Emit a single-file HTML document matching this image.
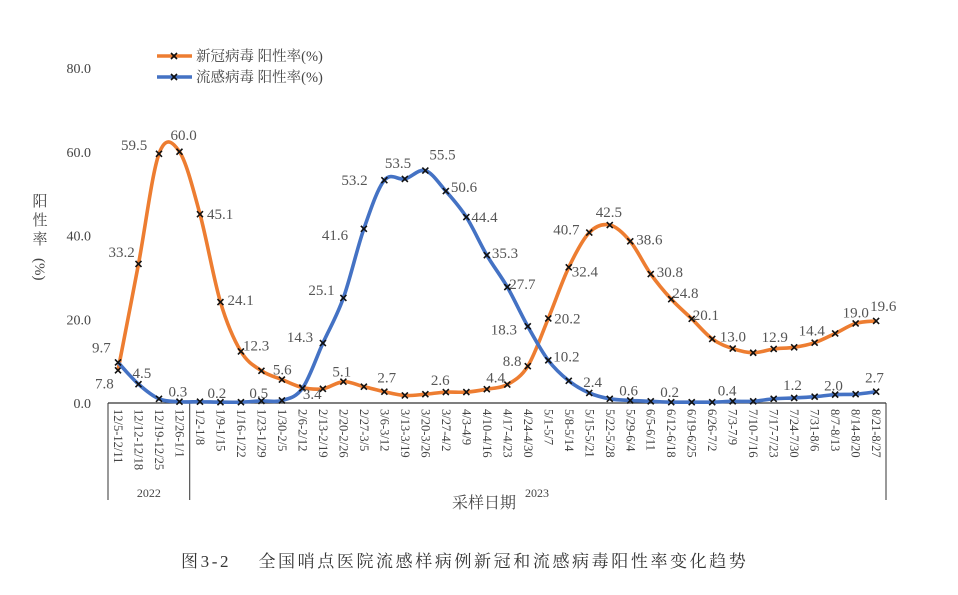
<!DOCTYPE html>
<html><head><meta charset="utf-8">
<style>
body{margin:0;background:#fff;}
svg text{font-family:"Liberation Serif","Noto Serif CJK SC",serif;}
</style></head>
<body>
<svg id="chart" width="958" height="590" viewBox="0 0 958 590" xmlns="http://www.w3.org/2000/svg">
<g id="axes"></g>
<g id="series"></g>
<g id="labels"></g>
</svg>
<script>
const categories=["12/5-12/11","12/12-12/18","12/19-12/25","12/26-1/1","1/2-1/8","1/9-1/15","1/16-1/22","1/23-1/29","1/30-2/5","2/6-2/12","2/13-2/19","2/20-2/26","2/27-3/5","3/6-3/12","3/13-3/19","3/20-3/26","3/27-4/2","4/3-4/9","4/10-4/16","4/17-4/23","4/24-4/30","5/1-5/7","5/8-5/14","5/15-5/21","5/22-5/28","5/29-6/4","6/5-6/11","6/12-6/18","6/19-6/25","6/26-7/2","7/3-7/9","7/10-7/16","7/17-7/23","7/24-7/30","7/31-8/6","8/7-8/13","8/14-8/20","8/21-8/27"];
const covidValues=[7.8,33.2,59.5,60.0,45.1,24.1,12.3,7.7,5.6,3.7,3.4,5.1,3.9,2.7,1.8,2.1,2.6,2.6,3.3,4.4,8.8,20.2,32.4,40.7,42.5,38.6,30.8,24.8,20.1,15.3,13.0,12.0,12.9,13.3,14.4,16.6,19.0,19.6];
const fluValues=[9.7,4.5,1.0,0.3,0.3,0.2,0.2,0.5,0.6,3.5,14.3,25.1,41.6,53.2,53.5,55.5,50.6,44.4,35.3,27.7,18.3,10.2,5.3,2.4,1.0,0.6,0.4,0.2,0.2,0.2,0.4,0.4,1.0,1.2,1.5,2.0,2.1,2.7];
const yTicks=[0,20,40,60,80];
const years=["2022","2023"];

// label layout (index -> text offset from point), not data
const covidLabelLayout={0:[-23,18],1:[-30,-7],2:[-38,-4],3:[-9,-12],4:[7,5],5:[7,3],6:[2,-1],8:[-9,-5],10:[-20,10],11:[-11,-5],13:[-7,-9],16:[-15,-7],19:[-21,-2],20:[-25,0],21:[6,5],22:[3,9],23:[-36,2],24:[-14,-8],25:[6,3],26:[6,3],27:[1,-1],28:[1,1],30:[-13,-7],32:[-12,-7],34:[-16,-7],36:[-13,-6],37:[-6,-10]};
const fluLabelLayout={0:[-26,-10],1:[-6,-6],3:[-11,-5],5:[-13,-4],7:[-12,-3],10:[-36,-1],11:[-35,-3],12:[-42,11],13:[-43,5],14:[-20,-11],15:[4,-11],16:[5,1],17:[5,5],18:[5,3],19:[2,2],20:[-37,8],21:[5,1],23:[-6,-6],25:[-11,-5],27:[-11,-5],30:[-15,-6],33:[-11,-8],35:[-11,-4],37:[-11,-9]};

const NS="http://www.w3.org/2000/svg";
const X0=118,DX=20.49,Y0=403,YS=335/80;
const xPos=i=>X0+i*DX;
const yPos=v=>Y0-v*YS;
function mk(tag,attrs,parent,txt){const e=document.createElementNS(NS,tag);for(const k in attrs)e.setAttribute(k,attrs[k]);if(txt!==undefined)e.textContent=txt;parent.appendChild(e);return e;}
const axes=document.getElementById('axes'),series=document.getElementById('series'),labels=document.getElementById('labels');

let bl=mk('line',{x1:108,y1:Y0,x2:886,y2:Y0,stroke:'#333','stroke-width':1.2},axes);


const gx=[108,X0+3.5*DX,886];
gx.forEach(x=>{const l=mk('line',{x1:x,y1:Y0,x2:x,y2:500,stroke:'#333','stroke-width':1},axes);

});
yTicks.forEach(v=>{const t=mk('text',{x:91,y:yPos(v)+5,'text-anchor':'end','font-size':14,fill:'#444'},axes,v.toFixed(1));

});
categories.forEach((c,i)=>{const x=xPos(i);const t=mk('text',{x:0,y:0,transform:`translate(${x-4},409) rotate(90)`,'font-size':12.5,fill:'#444'},axes,c);

});
let y1=mk('text',{x:(gx[0]+gx[1])/2,y:497,'text-anchor':'middle','font-size':12,fill:'#444'},axes,years[0]);


let y2=mk('text',{x:537,y:497,'text-anchor':'middle','font-size':12,fill:'#444'},axes,years[1]);


let xt=mk('text',{x:484,y:508,'text-anchor':'middle','font-size':16,fill:'#444'},axes,'采样日期');


const yt=mk('g',{},axes);


['阳','性','率'].forEach((ch,i)=>mk('text',{x:40,y:206+i*19,'text-anchor':'middle','font-size':15,fill:'#444'},yt,ch));
mk('text',{x:0,y:0,transform:'translate(35,258) rotate(90)','font-size':15,fill:'#444'},yt,'(%)');
let cap=mk('text',{x:181,y:567,'font-size':17,'letter-spacing':'2.6',fill:'#333'},axes,'图3-2\u00a0\u00a0\u00a0\u00a0全国哨点医院流感样病例新冠和流感病毒阳性率变化趋势');



function smoothPath(vals){const p=vals.map((v,i)=>[xPos(i),yPos(v)]);let d=`M${p[0][0]},${p[0][1]}`;
for(let i=0;i<p.length-1;i++){const a=p[Math.max(0,i-1)],b=p[i],c=p[i+1],e=p[Math.min(p.length-1,i+2)];const t=1/6;
d+=` C${b[0]+(c[0]-a[0])*t},${b[1]+(c[1]-a[1])*t} ${c[0]-(e[0]-b[0])*t},${c[1]-(e[1]-b[1])*t} ${c[0]},${c[1]}`;}return d;}
function drawSeries(vals,color,name){
const g=mk('g',{},series);


const l=mk('path',{d:smoothPath(vals),fill:'none',stroke:color,'stroke-width':3.6,'stroke-linejoin':'round'},g);


vals.forEach((v,i)=>{const x=xPos(i),y=yPos(v);const m=mk('path',{d:`M${x-3},${y-3}L${x+3},${y+3}M${x-3},${y+3}L${x+3},${y-3}`,stroke:'#111','stroke-width':1.6},g);

});}
drawSeries(covidValues,'#ED7D31','covid');
drawSeries(fluValues,'#4472C4','flu');

function drawLabels(vals,layout,name){Object.keys(layout).forEach(k=>{const i=+k,v=vals[i];const [dx,dy]=layout[k];
const t=mk('text',{x:xPos(i)+dx,y:yPos(v)+dy,'font-size':15,fill:'#555'},labels,v.toFixed(1));

});}
drawLabels(covidValues,covidLabelLayout,'covid');
drawLabels(fluValues,fluLabelLayout,'flu');

[['新冠病毒 阳性率(%)','#ED7D31',56,'legend-covid'],['流感病毒 阳性率(%)','#4472C4',77,'legend-flu']].forEach(([t,c,y,n])=>{
const g=mk('g',{},axes);


mk('line',{x1:157,y1:y,x2:192,y2:y,stroke:c,'stroke-width':3.6},g);
mk('path',{d:`M171,${y-3}L177,${y+3}M171,${y+3}L177,${y-3}`,stroke:'#111','stroke-width':1.6},g);
mk('text',{x:196,y:y+5,'font-size':14.5,fill:'#444'},g,t);});
</script>
</body></html>
